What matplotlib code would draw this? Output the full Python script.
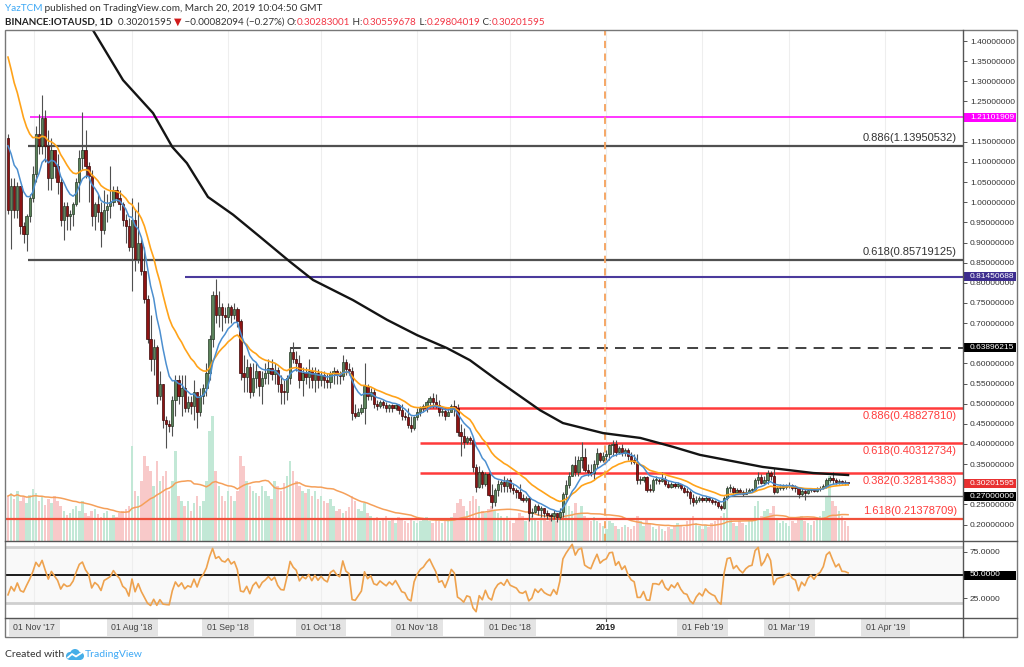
#!/usr/bin/env python3
"""IOTA/USD daily candles with Fibonacci levels, moving averages, volume and RSI."""

import matplotlib

matplotlib.use("Agg")

import matplotlib.pyplot as plt
import matplotlib.transforms as mtransforms
from matplotlib.lines import Line2D
from matplotlib.patches import Circle, Rectangle
import numpy as np
import pandas as pd

# ---------------------------------------------------------------- data
FIRST_OPEN = 1.16
closes = [
    0.98, 1.04, 0.98, 1.04, 0.94, 0.92, 0.965, 1.01, 1.07, 1.17,
    1.14, 1.21, 1.14, 1.06, 1.13, 1.09, 1.05, 0.955, 0.99, 0.965,
    0.97, 0.995, 1.05, 1.11, 1.13, 1.09, 1.065, 0.965, 0.995, 0.975,
    0.93, 0.98, 0.99, 1.00, 1.03, 1.01, 0.995, 0.955, 0.94, 0.89,
    0.955, 0.86, 0.90, 0.83, 0.76, 0.66, 0.61, 0.64, 0.52, 0.55,
    0.46, 0.45, 0.445, 0.51, 0.56, 0.52, 0.54, 0.49, 0.505, 0.495,
    0.53, 0.48, 0.52, 0.54, 0.575, 0.66, 0.77, 0.72, 0.74, 0.72,
    0.715, 0.74, 0.72, 0.735, 0.705, 0.575, 0.567, 0.59, 0.53, 0.565,
    0.58, 0.543, 0.565, 0.575, 0.588, 0.573, 0.583, 0.55, 0.53, 0.528,
    0.563, 0.629, 0.61, 0.60, 0.56, 0.575, 0.567, 0.58, 0.56, 0.575,
    0.56, 0.57, 0.56, 0.555, 0.575, 0.58, 0.572, 0.568, 0.604, 0.585,
    0.58, 0.476, 0.47, 0.48, 0.49, 0.545, 0.52, 0.53, 0.50, 0.495,
    0.505, 0.497, 0.49, 0.497, 0.49, 0.497, 0.485, 0.47, 0.467, 0.447,
    0.44, 0.466, 0.48, 0.49, 0.495, 0.505, 0.513, 0.505, 0.497, 0.48,
    0.482, 0.47, 0.48, 0.495, 0.49, 0.43, 0.42, 0.405, 0.414, 0.41,
    0.344, 0.294, 0.33, 0.30, 0.325, 0.274, 0.255, 0.285, 0.30, 0.306,
    0.295, 0.31, 0.29, 0.285, 0.28, 0.265, 0.262, 0.265, 0.228, 0.232,
    0.245, 0.235, 0.24, 0.23, 0.225, 0.222, 0.228, 0.218, 0.232, 0.277,
    0.298, 0.32, 0.348, 0.33, 0.36, 0.368, 0.335, 0.33, 0.327, 0.35,
    0.377, 0.36, 0.37, 0.375, 0.398, 0.40, 0.38, 0.39, 0.377, 0.385,
    0.37, 0.36, 0.356, 0.31, 0.31, 0.318, 0.286, 0.285, 0.31, 0.31,
    0.308, 0.314, 0.30, 0.294, 0.30, 0.295, 0.30, 0.29, 0.282, 0.28,
    0.265, 0.257, 0.262, 0.265, 0.26, 0.265, 0.26, 0.257, 0.255, 0.245,
    0.24, 0.265, 0.29, 0.292, 0.28, 0.285, 0.28, 0.277, 0.282, 0.285,
    0.286, 0.31, 0.319, 0.302, 0.31, 0.327, 0.32, 0.28, 0.29, 0.292,
    0.293, 0.296, 0.298, 0.292, 0.29, 0.275, 0.283, 0.278, 0.285, 0.288,
    0.284, 0.288, 0.29, 0.295, 0.31, 0.315, 0.31, 0.305, 0.308, 0.303,
    0.30283, 0.30202,
]
highs = [
    1.17, 1.06, 1.06, 1.05, 1.04, 0.95, 0.97, 1.02, 1.09, 1.19,
    1.22, 1.265, 1.23, 1.18, 1.16, 1.13, 1.12, 1.06, 1.00, 1.00,
    0.98, 1.00, 1.06, 1.13, 1.225, 1.18, 1.10, 1.08, 1.00, 1.02,
    1.00, 1.03, 1.02, 1.09, 1.04, 1.04, 1.03, 1.00, 0.97, 0.96,
    1.01, 0.98, 1.00, 0.91, 0.89, 0.77, 0.72, 0.66, 0.645, 0.58,
    0.55, 0.47, 0.46, 0.52, 0.57, 0.57, 0.57, 0.57, 0.52, 0.52,
    0.56, 0.53, 0.54, 0.55, 0.60, 0.67, 0.78, 0.81, 0.78, 0.75,
    0.74, 0.75, 0.745, 0.75, 0.74, 0.71, 0.62, 0.61, 0.60, 0.60,
    0.60, 0.58, 0.58, 0.60, 0.61, 0.61, 0.60, 0.59, 0.57, 0.56,
    0.57, 0.64, 0.654, 0.63, 0.62, 0.59, 0.59, 0.61, 0.59, 0.59,
    0.585, 0.58, 0.58, 0.575, 0.58, 0.59, 0.585, 0.58, 0.62, 0.61,
    0.60, 0.59, 0.50, 0.49, 0.50, 0.60, 0.55, 0.54, 0.54, 0.51,
    0.51, 0.51, 0.505, 0.50, 0.50, 0.50, 0.50, 0.50, 0.48, 0.49,
    0.47, 0.47, 0.49, 0.495, 0.50, 0.51, 0.52, 0.527, 0.525, 0.51,
    0.49, 0.49, 0.49, 0.50, 0.51, 0.50, 0.45, 0.44, 0.42, 0.42,
    0.415, 0.35, 0.345, 0.335, 0.33, 0.33, 0.30, 0.29, 0.31, 0.31,
    0.32, 0.315, 0.315, 0.30, 0.29, 0.30, 0.275, 0.27, 0.27, 0.24,
    0.25, 0.25, 0.245, 0.24, 0.235, 0.23, 0.235, 0.23, 0.24, 0.28,
    0.31, 0.33, 0.35, 0.37, 0.37, 0.405, 0.39, 0.35, 0.35, 0.36,
    0.39, 0.38, 0.38, 0.385, 0.40, 0.41, 0.41, 0.395, 0.40, 0.39,
    0.39, 0.38, 0.375, 0.375, 0.32, 0.32, 0.32, 0.30, 0.315, 0.32,
    0.315, 0.33, 0.32, 0.31, 0.305, 0.305, 0.305, 0.30, 0.295, 0.29,
    0.285, 0.275, 0.27, 0.27, 0.27, 0.27, 0.268, 0.265, 0.26, 0.258,
    0.25, 0.27, 0.295, 0.30, 0.295, 0.29, 0.29, 0.285, 0.29, 0.29,
    0.29, 0.315, 0.33, 0.325, 0.32, 0.335, 0.332, 0.34, 0.295, 0.30,
    0.30, 0.30, 0.305, 0.30, 0.298, 0.292, 0.29, 0.288, 0.29, 0.292,
    0.29, 0.293, 0.295, 0.30, 0.315, 0.32, 0.33, 0.315, 0.312, 0.31,
    0.31, 0.30560,
]
lows = [
    0.97, 0.885, 0.96, 0.96, 0.92, 0.90, 0.88, 0.95, 1.00, 1.05,
    1.12, 1.12, 1.10, 1.03, 1.03, 1.06, 1.02, 0.94, 0.905, 0.93,
    0.93, 0.94, 0.99, 1.00, 1.08, 1.06, 1.00, 0.94, 0.93, 0.95,
    0.89, 0.92, 0.95, 0.96, 0.99, 1.00, 0.98, 0.94, 0.90, 0.88,
    0.78, 0.83, 0.85, 0.82, 0.75, 0.65, 0.58, 0.57, 0.50, 0.51,
    0.44, 0.39, 0.43, 0.42, 0.47, 0.50, 0.47, 0.48, 0.48, 0.475,
    0.46, 0.44, 0.47, 0.50, 0.52, 0.56, 0.64, 0.70, 0.69, 0.68,
    0.70, 0.70, 0.70, 0.71, 0.69, 0.56, 0.53, 0.53, 0.515, 0.52,
    0.54, 0.52, 0.50, 0.55, 0.55, 0.56, 0.55, 0.53, 0.50, 0.50,
    0.51, 0.55, 0.60, 0.58, 0.54, 0.52, 0.55, 0.54, 0.54, 0.53,
    0.54, 0.545, 0.54, 0.54, 0.54, 0.55, 0.55, 0.55, 0.56, 0.57,
    0.57, 0.46, 0.465, 0.47, 0.475, 0.45, 0.51, 0.51, 0.49, 0.485,
    0.49, 0.49, 0.48, 0.48, 0.48, 0.485, 0.475, 0.46, 0.46, 0.44,
    0.43, 0.435, 0.46, 0.47, 0.48, 0.48, 0.49, 0.49, 0.49, 0.47,
    0.47, 0.46, 0.47, 0.48, 0.47, 0.42, 0.37, 0.39, 0.40, 0.40,
    0.33, 0.28, 0.29, 0.29, 0.295, 0.27, 0.24, 0.245, 0.27, 0.28,
    0.28, 0.28, 0.28, 0.275, 0.265, 0.26, 0.255, 0.255, 0.21, 0.22,
    0.23, 0.225, 0.22, 0.22, 0.215, 0.21, 0.215, 0.207, 0.215, 0.22,
    0.26, 0.29, 0.32, 0.32, 0.32, 0.34, 0.33, 0.32, 0.32, 0.31,
    0.34, 0.355, 0.355, 0.36, 0.36, 0.37, 0.37, 0.375, 0.37, 0.37,
    0.36, 0.35, 0.35, 0.30, 0.30, 0.305, 0.28, 0.28, 0.28, 0.30,
    0.30, 0.305, 0.295, 0.29, 0.29, 0.29, 0.29, 0.285, 0.278, 0.27,
    0.25, 0.247, 0.25, 0.255, 0.255, 0.255, 0.255, 0.25, 0.248, 0.24,
    0.236, 0.238, 0.26, 0.28, 0.275, 0.275, 0.275, 0.27, 0.275, 0.278,
    0.28, 0.283, 0.30, 0.30, 0.30, 0.30, 0.31, 0.275, 0.278, 0.285,
    0.285, 0.288, 0.29, 0.285, 0.28, 0.265, 0.272, 0.26, 0.275, 0.28,
    0.28, 0.28, 0.283, 0.288, 0.29, 0.305, 0.30, 0.30, 0.30, 0.30,
    0.298, 0.29804,
]
# volume, arbitrary units (the chart hides the volume scale)
volume = [
    45, 48, 42, 50, 40, 44, 38, 46, 52, 48,
    40, 44, 36, 42, 38, 45, 40, 35, 30, 26,
    28, 32, 35, 30, 40, 28, 25, 30, 32, 27,
    24, 28, 30, 22, 26, 24, 28, 30, 32, 35,
    95, 50, 45, 60, 85, 75, 70, 55, 80, 60,
    65, 70, 50, 60, 90, 45, 40, 35, 40, 30,
    38, 45, 35, 40, 60, 110, 125, 70, 55, 45,
    40, 50, 45, 40, 50, 85, 75, 60, 55, 50,
    48, 45, 55, 50, 45, 42, 60, 55, 50, 58,
    65, 80, 70, 60, 55, 50, 48, 52, 45, 50,
    42, 45, 40, 38, 42, 35, 30, 32, 28, 30,
    34, 45, 40, 32, 30, 38, 28, 25, 22, 24,
    20, 22, 25, 20, 22, 18, 24, 22, 20, 18,
    22, 20, 18, 20, 22, 24, 20, 18, 22, 20,
    18, 22, 20, 24, 28, 38, 42, 35, 30, 40,
    45, 42, 35, 30, 28, 32, 35, 30, 28, 25,
    22, 25, 20, 18, 22, 28, 25, 20, 30, 25,
    22, 20, 24, 22, 20, 25, 22, 20, 28, 45,
    40, 35, 30, 38, 28, 35, 25, 22, 20, 24,
    20, 18, 15, 12, 20, 18, 15, 12, 14, 16,
    14, 12, 15, 25, 20, 15, 22, 18, 14, 12,
    15, 12, 10, 14, 12, 15, 18, 16, 14, 20,
    22, 25, 18, 15, 12, 16, 14, 18, 20, 22,
    25, 28, 40, 22, 18, 15, 20, 18, 16, 20,
    22, 35, 40, 25, 30, 32, 28, 35, 22, 18,
    20, 18, 15, 20, 18, 22, 25, 20, 18, 16,
    20, 22, 25, 30, 45, 65, 40, 35, 30, 25,
    20, 15,
]

# 200-day SMA (bar index, price)
sma200_idx = [20, 27.4, 37.1, 46.8, 53, 57.7, 64.5, 72.6, 81.3, 91, 98.4, 111.3, 122.3,
              132, 141.6, 149, 157.7, 171.6, 179, 192, 204, 214.5, 223.2, 243.5, 259.7, 271]
sma200_val = [1.60, 1.427, 1.303, 1.221, 1.137, 1.097, 1.013, 0.969, 0.914, 0.852, 0.807,
              0.757, 0.708, 0.670, 0.638, 0.608, 0.559, 0.484, 0.452, 0.427, 0.415, 0.393,
              0.373, 0.343, 0.328, 0.323]

EMA_FAST_START = 1.14
EMA_SLOW_START = 1.36
RSI_PERIOD = 7
RSI_SEED_GAIN = 0.020
RSI_SEED_LOSS = 0.050

tick_idx = [8.5, 40, 71, 101, 132, 162, 193, 224, 252, 283]
tick_labels = ["01 Nov '17", "01 Aug '18", "01 Sep '18", "01 Oct '18", "01 Nov '18",
               "01 Dec '18", "2019", "01 Feb '19", "01 Mar '19", "01 Apr '19"]

fib_prices = [1.13950532, 0.85719125, 0.48827810, 0.40312734, 0.32814383, 0.21378709]
fib_labels = ["0.886(1.13950532)", "0.618(0.85719125)", "0.886(0.48827810)",
              "0.618(0.40312734)", "0.382(0.32814383)", "1.618(0.21378709)"]

# ---------------------------------------------------------------- layout
W, H = 1024, 667
LEFT, RIGHT, AXIS_RIGHT = 5, 963, 1017
TOP, MAIN_BOTTOM, RSI_TOP, RSI_BOTTOM, XAX_BOTTOM = 30, 541, 543, 618, 637
X0_PX, STEP_PX = 8.0, 3.1

RED = "#f23645"
TEXT = "#333333"
BLUE_LINK = "#3fa9f5"
FONT = ["Lato", "DejaVu Sans"]
AXFONT = ["Liberation Sans", "DejaVu Sans"]


def fig_x(px):
    return px / W


def fig_y(py):
    return 1 - py / H


def price_at(py):
    return 0.40 + (444 - py) / 403.0


def rsi_at(py):
    return 50 + (575 - py) / 0.926


xlim = ((LEFT - X0_PX) / STEP_PX, (RIGHT - X0_PX) / STEP_PX)

closes = np.array(closes)
opens = np.concatenate([[FIRST_OPEN], closes[:-1]])
highs = np.maximum(np.array(highs), np.maximum(opens, closes))
lows = np.minimum(np.array(lows), np.minimum(opens, closes))
volume = np.array(volume, dtype=float)
idx = np.arange(len(closes))
up = closes >= opens

ema_fast = [EMA_FAST_START]
ema_slow = [EMA_SLOW_START]
for c in closes[1:]:
    ema_fast.append(ema_fast[-1] + 2 / 10 * (c - ema_fast[-1]))
    ema_slow.append(ema_slow[-1] + 2 / 21 * (c - ema_slow[-1]))

vol_ma = pd.Series(volume).rolling(20, min_periods=1).mean()

gain, loss = RSI_SEED_GAIN, RSI_SEED_LOSS
rsi = [100 - 100 / (1 + gain / loss)]
for d in np.diff(closes):
    gain = (gain * (RSI_PERIOD - 1) + max(d, 0)) / RSI_PERIOD
    loss = (loss * (RSI_PERIOD - 1) + max(-d, 0)) / RSI_PERIOD
    rsi.append(100 - 100 / (1 + gain / loss))

# ---------------------------------------------------------------- figure
fig = plt.figure(figsize=(W / 100, H / 100), dpi=100, facecolor="white")
rect_main = [fig_x(LEFT), fig_y(MAIN_BOTTOM), fig_x(RIGHT) - fig_x(LEFT), fig_y(TOP) - fig_y(MAIN_BOTTOM)]
ax_vol = fig.add_axes(rect_main, zorder=1)
ax = fig.add_axes(rect_main, zorder=2)
ax.patch.set_visible(False)
ax_rsi = fig.add_axes([fig_x(LEFT), fig_y(RSI_BOTTOM), fig_x(RIGHT) - fig_x(LEFT),
                       fig_y(RSI_TOP) - fig_y(RSI_BOTTOM)], zorder=2)

for a in (ax_vol, ax, ax_rsi):
    a.set_xlim(*xlim)
    for s in a.spines.values():
        s.set_visible(False)
    a.tick_params(axis="x", bottom=False, labelbottom=False)

# volume
ax_vol.set_ylim(0, MAIN_BOTTOM - TOP)
ax_vol.set_yticks([])
ax_vol.bar(idx, volume, width=0.78, color=np.where(up, "#c2e8d6", "#f8c9c9"), linewidth=0)
ax_vol.plot(idx, vol_ma, color="#f5a05a", lw=1.1)
for t in tick_idx:
    ax_vol.axvline(t, color="#eeeeee", lw=0.8, zorder=0)

# price panel; labels hidden under the coloured level boxes are left out
ax.set_ylim(price_at(MAIN_BOTTOM), price_at(TOP))
price_ticks = [p for p in np.arange(0.20, 1.4001, 0.05)
               if min(abs(p - q) for q in (1.21101909, 0.81450688, 0.63896215, 0.30201595)) > 0.013]
ax.set_yticks(price_ticks)
ax.yaxis.set_major_formatter(matplotlib.ticker.FormatStrFormatter("%.8f"))
ax.yaxis.tick_right()
ax.tick_params(axis="y", direction="out", length=3, width=0.7, color="#555555",
               labelsize=6, labelcolor=TEXT, pad=2)
for lab in ax.get_yticklabels():
    lab.set_family(AXFONT)

x_end = xlim[1]
ax.hlines(1.21101909, (30 - X0_PX) / STEP_PX, x_end, color="#ff00ff", lw=1.1, zorder=3)
ax.hlines([1.13950532, 0.85719125], (28 - X0_PX) / STEP_PX, x_end, color="#505050", lw=1.6, zorder=3)
ax.hlines(0.81450688, (185 - X0_PX) / STEP_PX, x_end, color="#4b3a9c", lw=1.5, zorder=3)
ax.hlines(0.63896215, (290 - X0_PX) / STEP_PX, x_end, color="#333333", lw=1.3,
          linestyles=(0, (6, 4)), zorder=3)
ax.hlines([0.48827810, 0.40312734, 0.32814383], (420 - X0_PX) / STEP_PX, x_end,
          color="#ff3b3b", lw=1.8, zorder=3)
ax.hlines(0.27, (727 - X0_PX) / STEP_PX, x_end, color="#606060", lw=1.0, zorder=3)
ax.hlines(0.21378709, xlim[0], x_end, color="#f0503a", lw=1.6, zorder=3)
ax.axvline(192.7, color="#f5a05a", lw=1.3, linestyle=(0, (4, 3)), zorder=3)

# candles
ax.vlines(idx, lows, highs, color="#505050", lw=0.8, zorder=4)
body_lo = np.minimum(opens, closes)
body_h = np.maximum(np.abs(closes - opens), 0.003)
ax.bar(idx[up], body_h[up], bottom=body_lo[up], width=0.72, color="#5b835b",
       edgecolor="#243824", linewidth=0.5, zorder=5)
ax.bar(idx[~up], body_h[~up], bottom=body_lo[~up], width=0.72, color="#8e1414",
       edgecolor="#3a0707", linewidth=0.5, zorder=5)

ax.plot(sma200_idx, sma200_val, color="#141414", lw=1.7, zorder=6)
ax.plot(idx, ema_slow, color="#ffa31a", lw=1.2, zorder=6)
ax.plot(idx, ema_fast, color="#4c8fd0", lw=1.1, zorder=6)

label_x = (957 - X0_PX) / STEP_PX
for price, text in zip(fib_prices, fib_labels):
    above = price > 0.8 or price < 0.25
    colour = "#333333" if price > 0.8 else "#ff3b3b"
    ax.annotate(text, (label_x, price), xytext=(0, 2 if above else -2), textcoords="offset points",
                ha="right", va="bottom" if above else "top", fontsize=8, color=colour,
                family=AXFONT, zorder=7)


def fig_y_of_price(p):
    return fig.transFigure.inverted().transform(ax.transData.transform((0, p)))[1]


def axis_box(fy_centre, text, bg, height_px=9):
    fig.add_artist(Rectangle((fig_x(RIGHT + 1), fy_centre - height_px / 2 / H),
                             (AXIS_RIGHT - RIGHT - 2) / W, height_px / H,
                             transform=fig.transFigure, facecolor=bg, edgecolor="none", zorder=20))
    fig.text(fig_x(970), fy_centre, text, color="white", fontsize=6, family=AXFONT,
             va="center", ha="left", zorder=21)


for p, bg in [(1.21101909, "#ff00ff"), (0.81450688, "#3d2d8f"), (0.63896215, "#000000"),
              (0.30201595, "#e83030"), (0.27, "#000000")]:
    axis_box(fig_y_of_price(p), f"{p:.8f}", bg)

# RSI panel
ax_rsi.set_ylim(rsi_at(RSI_BOTTOM), rsi_at(RSI_TOP))
ax_rsi.axhspan(20, 80, color="#f9f9f9", zorder=0)
ax_rsi.axhline(80, color="#cfcfcf", lw=2.0, zorder=1)
ax_rsi.axhline(20, color="#cfcfcf", lw=2.0, zorder=1)
ax_rsi.axhline(50, color="#1a1a1a", lw=1.4, zorder=1)
for t in tick_idx:
    ax_rsi.axvline(t, color="#eeeeee", lw=0.8, zorder=0)
ax_rsi.plot(idx, rsi, color="#eea24e", lw=1.2, zorder=3)
ax_rsi.set_yticks([25, 75])
ax_rsi.yaxis.set_major_formatter(matplotlib.ticker.FormatStrFormatter("%.4f"))
ax_rsi.yaxis.tick_right()
ax_rsi.tick_params(axis="y", direction="out", length=3, width=0.7, color="#555555",
                   labelsize=6, labelcolor=TEXT, pad=2)
for lab in ax_rsi.get_yticklabels():
    lab.set_family(AXFONT)
rsi_fy = fig.transFigure.inverted().transform(ax_rsi.transData.transform((0, 50)))[1]
axis_box(rsi_fy, "50.0000", "#000000")

# frame and separators
frame = dict(transform=fig.transFigure, color="#555555", lw=1.0, zorder=30)
fig.add_artist(Rectangle((fig_x(LEFT), fig_y(XAX_BOTTOM)), fig_x(AXIS_RIGHT) - fig_x(LEFT),
                         fig_y(TOP) - fig_y(XAX_BOTTOM), fill=False, transform=fig.transFigure,
                         edgecolor="#777777", lw=1.0, zorder=30))
for py in (MAIN_BOTTOM, RSI_BOTTOM):
    fig.add_artist(Line2D([fig_x(LEFT), fig_x(AXIS_RIGHT)], [fig_y(py), fig_y(py)], **frame))
fig.add_artist(Line2D([fig_x(RIGHT), fig_x(RIGHT)], [fig_y(TOP), fig_y(XAX_BOTTOM)], **frame))

# time axis labels
xtrans = mtransforms.blended_transform_factory(ax_rsi.transData, fig.transFigure)
for t, lab in zip(tick_idx, tick_labels):
    fig.add_artist(Line2D([t, t], [fig_y(RSI_BOTTOM), fig_y(RSI_BOTTOM + 3)], transform=xtrans,
                          color="#555555", lw=0.8))
    if lab == "2019":
        fig.text(t, fig_y(628), lab, transform=xtrans, ha="center", va="center", fontsize=6.5,
                 fontweight="bold", color="#222222", family=AXFONT)
    else:
        fig.text(t, fig_y(627), lab, transform=xtrans, ha="center", va="center", fontsize=6.3,
                 color="#444444", family=AXFONT,
                 bbox=dict(boxstyle="square,pad=0.55", fc="#e4e4e4", ec="none"))

# header lines
renderer = fig.canvas.get_renderer()


def text_run(x_px, base_px, pieces, size):
    x = x_px
    for s, colour, weight in pieces:
        t = fig.text(fig_x(x), fig_y(base_px), s, color=colour, fontsize=size,
                     fontweight=weight, family=FONT, va="baseline", ha="left")
        x += t.get_window_extent(renderer).width


text_run(5, 11, [("YazTCM", BLUE_LINK, "normal"),
                 (" published on TradingView.com, March 20, 2019 10:04:50 GMT", TEXT, "normal")], 7.2)
text_run(5, 25, [("BINANCE:IOTAUSD, 1D", "#222222", "bold"),
                 ("  0.30201595 ", TEXT, "normal"),
                 ("\u25bc", "#d11a1a", "normal"),
                 (" \u22120.00082094 (\u22120.27%) ", TEXT, "normal"),
                 ("O:", TEXT, "normal"), ("0.30283001", RED, "normal"),
                 (" H:", TEXT, "normal"), ("0.30559678", RED, "normal"),
                 (" L:", TEXT, "normal"), ("0.29804019", RED, "normal"),
                 (" C:", TEXT, "normal"), ("0.30201595", RED, "normal")], 7.1)

# footer with logo
fig.text(fig_x(5), fig_y(657), "Created with", color=TEXT, fontsize=7.5, family=FONT, va="baseline")
logo = fig.add_axes([fig_x(65), fig_y(661), 20 / W, 14 / H])
logo.set_xlim(0, 20)
logo.set_ylim(0, 14)
logo.axis("off")
for cx, cy, r in [(5, 5, 4), (10, 7, 5), (15, 5, 4)]:
    logo.add_patch(Circle((cx, cy), r, color="#45aee8", lw=0))
logo.add_patch(Rectangle((5, 1), 10, 4, color="#45aee8", lw=0))
logo.plot([3, 7, 11, 17], [3.5, 7, 4.5, 8.5], color="white", lw=1.3)
fig.text(fig_x(85), fig_y(657), "TradingView", color=BLUE_LINK, fontsize=7.5, family=FONT, va="baseline")

fig.savefig("out.png", dpi=100, facecolor="white")
